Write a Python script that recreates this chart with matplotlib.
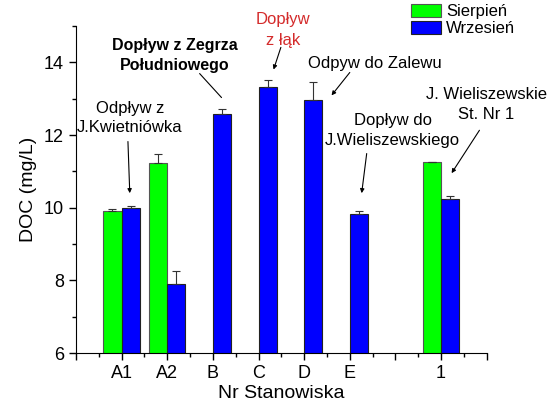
import numpy as np
import matplotlib.pyplot as plt
from matplotlib.ticker import MultipleLocator, FixedLocator

plt.rcParams['font.family'] = ['Liberation Sans', 'DejaVu Sans']

# station positions on the x axis
x_pos = [1, 2, 3, 4, 5, 6, 8]
x_labels = ['A1', 'A2', 'B', 'C', 'D', 'E', '1']

# DOC (mg/L), August (Sierpień) - only stations with data
aug_x = [1, 2, 8]
aug_val = [9.90, 11.22, 11.25]
aug_err = [0.07, 0.27, 0.02]

# DOC (mg/L), September (Wrzesień)
sep_x = [1, 2, 3, 4, 5, 6, 8]
sep_val = [10.00, 7.89, 12.59, 13.32, 12.96, 9.84, 10.24]
sep_err = [0.06, 0.36, 0.12, 0.18, 0.50, 0.08, 0.08]

fig = plt.figure(figsize=(5.5, 4.05), dpi=100)
ax = fig.add_axes([0.138, 0.128, 0.747, 0.808])

w = 0.4
ax.bar(aug_x, aug_val, width=-w, align='edge', color='#00ff00',
       edgecolor='#555555', linewidth=0.8, label='Sierpień', zorder=2)
ax.bar(sep_x, sep_val, width=w, align='edge', color='#0000ff',
       edgecolor='#222222', linewidth=0.8, label='Wrzesień', zorder=2)
ax.errorbar(np.array(aug_x) - w / 2, aug_val, yerr=[np.zeros(len(aug_err)), aug_err],
            fmt='none', ecolor='#333333', elinewidth=0.8, capsize=3, capthick=0.8, zorder=3)
ax.errorbar(np.array(sep_x) + w / 2, sep_val, yerr=[np.zeros(len(sep_err)), sep_err],
            fmt='none', ecolor='#333333', elinewidth=0.8, capsize=3, capthick=0.8, zorder=3)

ax.set_xlim(0, 9)
ax.set_ylim(6, 15)
ax.xaxis.set_major_locator(FixedLocator(range(0, 10)))
ax.set_xticklabels([''] + x_labels[:6] + ['', '1', ''])
ax.xaxis.set_minor_locator(MultipleLocator(0.5))
ax.yaxis.set_major_locator(MultipleLocator(2))
ax.yaxis.set_minor_locator(MultipleLocator(1))
ax.tick_params(axis='both', which='major', labelsize=13, length=5, width=1)
ax.tick_params(axis='both', which='minor', length=3, width=1)
for s in ['top', 'right']:
    ax.spines[s].set_visible(False)
ax.set_xlabel('Nr Stanowiska', fontsize=14, labelpad=2)
ax.set_ylabel('DOC (mg/L)', fontsize=14, labelpad=5)

# annotations
arrow = dict(arrowstyle='-|>', lw=0.8, color='black', mutation_scale=6, shrinkA=0, shrinkB=0)
line = dict(arrowstyle='-', lw=0.8, color='black', shrinkA=0, shrinkB=0)

ax.text(1.18, 12.47, 'Odpływ z\nJ.Kwietniówka', ha='center', va='center', fontsize=12, linespacing=1.4)
ax.annotate('', xy=(1.18, 10.40), xytext=(1.14, 11.82), arrowprops=arrow)

ax.text(2.17, 14.19, 'Dopływ z Zegrza\nPołudniowego', ha='center', va='center', fontsize=11.5,
        fontweight='bold', linespacing=1.4)
ax.annotate('', xy=(3.19, 13.03), xytext=(2.71, 13.69), arrowprops=line)

ax.text(4.53, 14.9, 'Dopływ\nz łąk', ha='center', va='center', fontsize=12, color='#d42b2b',
        linespacing=1.5, clip_on=False)
ax.annotate('', xy=(4.33, 13.80), xytext=(4.49, 14.41), arrowprops=arrow)

ax.text(6.54, 13.97, 'Odpyw do Zalewu', ha='center', va='center', fontsize=12)
ax.annotate('', xy=(5.60, 13.09), xytext=(6.0, 13.72), arrowprops=arrow)

ax.text(6.94, 12.13, 'Dopływ do\nJ.Wieliszewskiego', ha='center', va='center', fontsize=12, linespacing=1.4)
ax.annotate('', xy=(6.26, 10.40), xytext=(6.37, 11.49), arrowprops=arrow)

ax.text(8.99, 12.84, 'J. Wieliszewskie\nSt. Nr 1', ha='center', va='center', fontsize=12,
        linespacing=1.4, clip_on=False)
ax.annotate('', xy=(8.23, 10.95), xytext=(8.84, 12.13), arrowprops=arrow)

fig.legend(loc='upper left', bbox_to_anchor=(0.748, 0.99), frameon=False, fontsize=12,
           handlelength=1.8, handleheight=0.8, labelspacing=0.1, handletextpad=0.3,
           borderaxespad=0, borderpad=0)

fig.savefig('out.png', dpi=100)
